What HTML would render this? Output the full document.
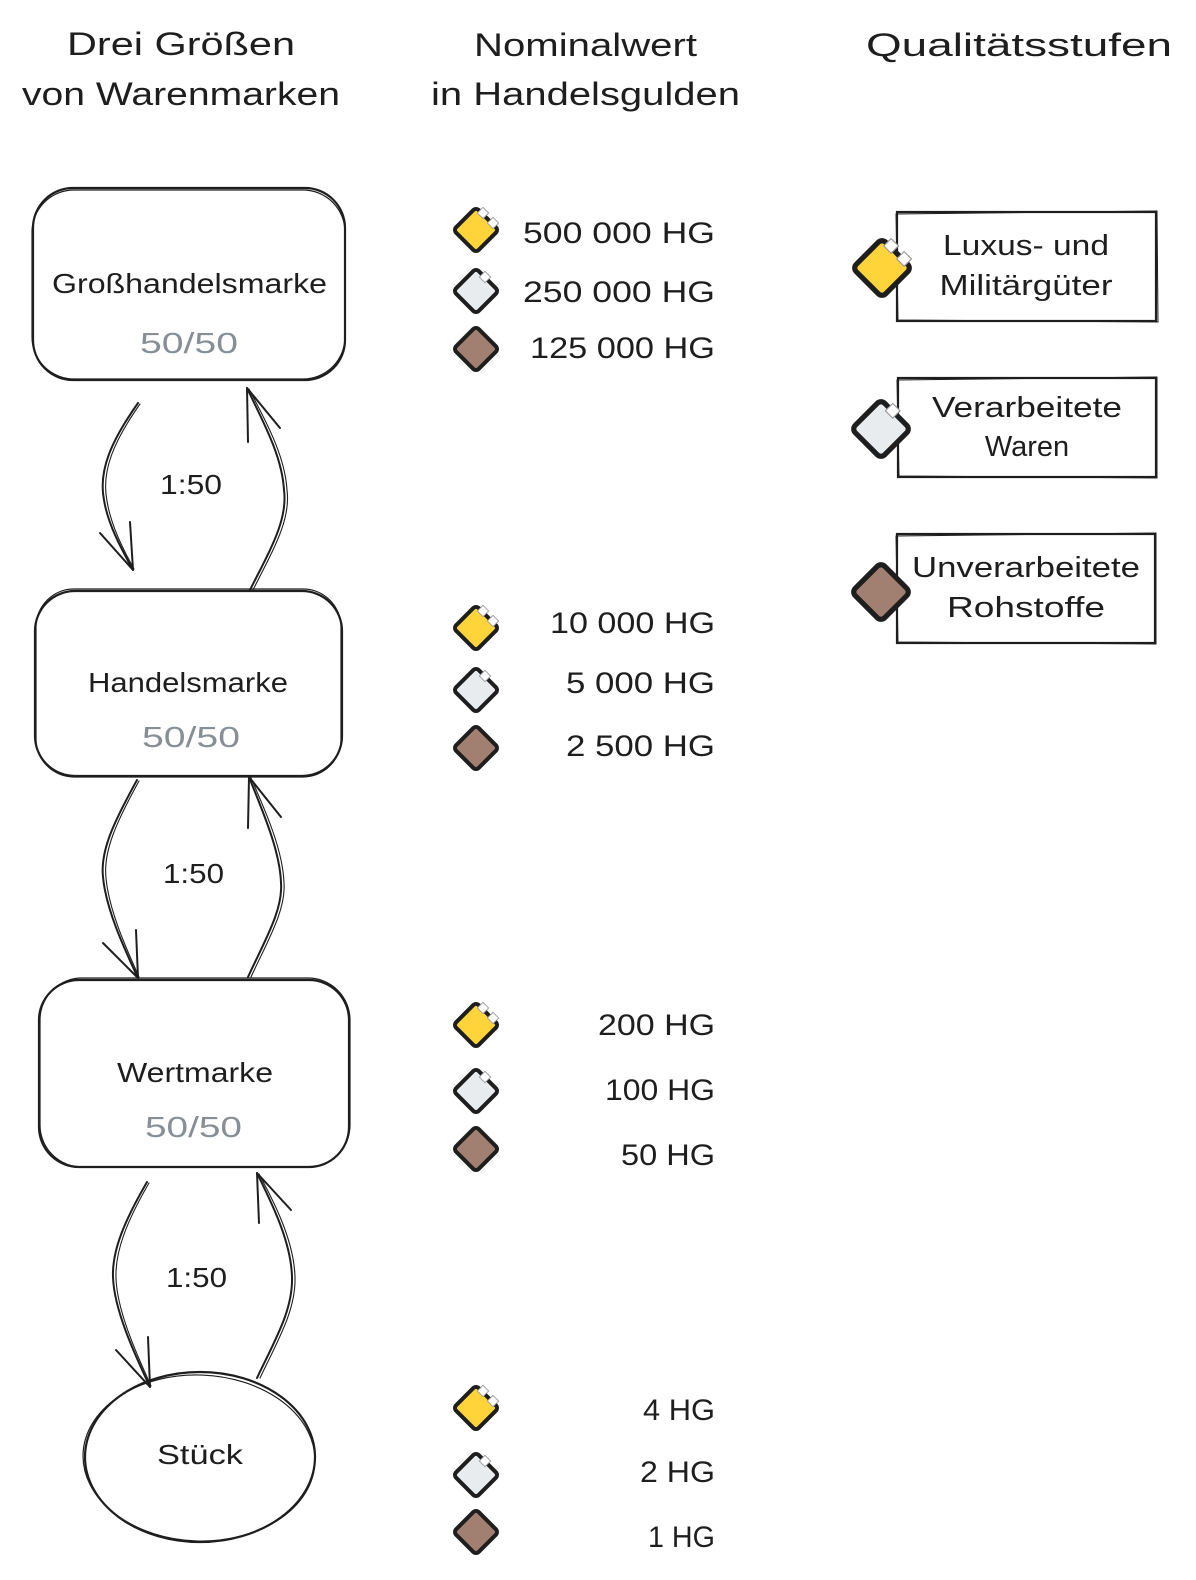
<!DOCTYPE html>
<html><head><meta charset="utf-8"><style>
html,body{margin:0;padding:0;background:#fff;}
svg{display:block;}
text{font-family:"Liberation Sans",sans-serif;fill:#1e1e1e;}
.g{fill:#868e96;}
</style></head><body>
<svg width="1196" height="1580" viewBox="0 0 1196 1580" xmlns="http://www.w3.org/2000/svg">
<rect width="1196" height="1580" fill="#fff"/>
<!-- Titles -->
<g font-size="32">
<text x="67" y="55" textLength="228" lengthAdjust="spacingAndGlyphs">Drei Größen</text>
<text x="22" y="105" textLength="318" lengthAdjust="spacingAndGlyphs">von Warenmarken</text>
<text x="474" y="56" textLength="223" lengthAdjust="spacingAndGlyphs">Nominalwert</text>
<text x="431" y="105" textLength="309" lengthAdjust="spacingAndGlyphs">in Handelsgulden</text>
<text x="866" y="56" textLength="306" lengthAdjust="spacingAndGlyphs">Qualitätsstufen</text>
</g>

<!-- Left nodes -->
<g fill="none" stroke="#1e1e1e">
<rect x="33" y="188" width="312" height="192" rx="40" stroke-width="2.2"/>
<rect x="32" y="190" width="313" height="189" rx="42" stroke-width="1.2"/>
<rect x="35" y="591" width="307" height="185" rx="40" stroke-width="2.2"/>
<rect x="36" y="589" width="305" height="188" rx="38" stroke-width="1.2"/>
<rect x="39" y="980" width="310" height="187" rx="40" stroke-width="2.2"/>
<rect x="40" y="978" width="310" height="189" rx="42" stroke-width="1.2"/>
<ellipse cx="200" cy="1457" rx="115" ry="85" stroke-width="2.2"/>
<ellipse cx="199" cy="1458" rx="116" ry="83" stroke-width="1.2" transform="rotate(2 199 1458)"/>
</g>
<g font-size="28">
<text x="52" y="293" textLength="275" lengthAdjust="spacingAndGlyphs">Großhandelsmarke</text>
<text x="88" y="692" textLength="200" lengthAdjust="spacingAndGlyphs">Handelsmarke</text>
<text x="117" y="1082" textLength="156" lengthAdjust="spacingAndGlyphs">Wertmarke</text>
<text x="157" y="1464" textLength="86" lengthAdjust="spacingAndGlyphs">Stück</text>
</g>
<g font-size="29" class="g">
<text class="g" x="140" y="353" textLength="98" lengthAdjust="spacingAndGlyphs">50/50</text>
<text class="g" x="142" y="747" textLength="98" lengthAdjust="spacingAndGlyphs">50/50</text>
<text class="g" x="145" y="1137" textLength="97" lengthAdjust="spacingAndGlyphs">50/50</text>
</g>
<g font-size="28">
<text x="160" y="494" textLength="62" lengthAdjust="spacingAndGlyphs">1:50</text>
<text x="163" y="883" textLength="61" lengthAdjust="spacingAndGlyphs">1:50</text>
<text x="166" y="1287" textLength="61" lengthAdjust="spacingAndGlyphs">1:50</text>
</g>

<!-- Arrows -->
<g fill="none" stroke="#1e1e1e" stroke-linecap="round" stroke-linejoin="round">
<g stroke-width="2">
<path d="M138,403 C112,440 98,470 104,500 C108,525 122,550 133,570"/>
<path d="M100,533 L133,570 L130,522"/>
<path d="M250,590 C270,550 288,520 284,490 C282,455 262,420 247,388"/>
<path d="M248,442 L247,388 L280,428"/>
<path d="M137,780 C115,820 100,850 103,877 C106,910 125,950 138,978"/>
<path d="M103,943 L138,978 L136,930"/>
<path d="M248,977 C265,940 283,910 281,883 C280,850 262,810 249,777"/>
<path d="M248,828 L249,777 L281,817"/>
<path d="M147,1182 C125,1220 112,1250 113,1277 C114,1310 135,1355 150,1387"/>
<path d="M116,1350 L150,1387 L148,1337"/>
<path d="M257,1378 C275,1340 293,1310 292,1277 C291,1240 270,1200 257,1173"/>
<path d="M259,1223 L257,1173 L291,1210"/>
</g>
<g stroke-width="1.1">
<path d="M140,404 C114,441 101,471 107,501 C111,526 124,551 134,569"/>
<path d="M253,590 C273,550 291,520 287,490 C285,455 265,420 249,389"/>
<path d="M139,781 C117,821 103,851 106,878 C109,911 127,950 139,977"/>
<path d="M251,977 C268,940 286,910 284,883 C283,850 265,810 251,778"/>
<path d="M149,1183 C127,1221 115,1251 116,1278 C117,1311 137,1355 151,1386"/>
<path d="M260,1378 C278,1340 296,1310 295,1277 C294,1240 273,1200 259,1174"/>
</g>
</g>

<defs>
<g id="dy">
<rect x="-16" y="-16" width="32" height="32" rx="4" fill="#ffd43b" stroke="#1e1e1e" stroke-width="4" transform="rotate(45)"/>
<rect x="-4" y="-4" width="8" height="8" fill="#fff" stroke="#999" stroke-width="0.9" transform="translate(7,-17) rotate(45)"/>
<rect x="-4" y="-4" width="8" height="8" fill="#fff" stroke="#999" stroke-width="0.9" transform="translate(17,-7) rotate(45)"/>
</g>
<g id="dg">
<rect x="-16" y="-16" width="32" height="32" rx="4" fill="#e9ecef" stroke="#1e1e1e" stroke-width="4" transform="rotate(45)"/>
<rect x="-4" y="-4" width="8" height="8" fill="#fff" stroke="#999" stroke-width="0.9" transform="translate(9,-14) rotate(45)"/>
</g>
<g id="db">
<rect x="-16" y="-16" width="32" height="32" rx="4" fill="#a18072" stroke="#1e1e1e" stroke-width="4" transform="rotate(45)"/>
</g>
</defs>

<use href="#dy" x="476" y="230"/>
<use href="#dg" x="476" y="291"/>
<use href="#db" x="476" y="349"/>
<use href="#dy" x="476" y="628"/>
<use href="#dg" x="476" y="690"/>
<use href="#db" x="476" y="748"/>
<use href="#dy" x="476" y="1025"/>
<use href="#dg" x="476" y="1091"/>
<use href="#db" x="476" y="1149"/>
<use href="#dy" x="476" y="1408"/>
<use href="#dg" x="476" y="1475"/>
<use href="#db" x="476" y="1532"/>

<g font-size="30" text-anchor="end">
<text x="715" y="243" textLength="192" lengthAdjust="spacingAndGlyphs">500 000 HG</text>
<text x="715" y="302" textLength="192" lengthAdjust="spacingAndGlyphs">250 000 HG</text>
<text x="715" y="358" textLength="185" lengthAdjust="spacingAndGlyphs">125 000 HG</text>
<text x="715" y="633" textLength="165" lengthAdjust="spacingAndGlyphs">10 000 HG</text>
<text x="715" y="693" textLength="149" lengthAdjust="spacingAndGlyphs">5 000 HG</text>
<text x="715" y="756" textLength="149" lengthAdjust="spacingAndGlyphs">2 500 HG</text>
<text x="715" y="1035" textLength="117" lengthAdjust="spacingAndGlyphs">200 HG</text>
<text x="715" y="1100" textLength="110" lengthAdjust="spacingAndGlyphs">100 HG</text>
<text x="715" y="1165" textLength="94" lengthAdjust="spacingAndGlyphs">50 HG</text>
<text x="715" y="1420" textLength="72" lengthAdjust="spacingAndGlyphs">4 HG</text>
<text x="715" y="1482" textLength="75" lengthAdjust="spacingAndGlyphs">2 HG</text>
<text x="715" y="1547" textLength="67" lengthAdjust="spacingAndGlyphs">1 HG</text>
</g>

<!-- Right column boxes -->
<g fill="#fff" stroke="#1e1e1e">
<rect x="897" y="212" width="259" height="109" stroke-width="2.2"/>
<rect x="898" y="378" width="258" height="99" stroke-width="2.2"/>
<rect x="897" y="534" width="258" height="109" stroke-width="2.2"/>
</g>
<g fill="none" stroke="#1e1e1e" stroke-width="1">
<path d="M896,214 L1157,211 L1158,322 L898,320 Z"/>
<path d="M897,380 L1157,377 L1157,478 L899,476 Z"/>
<path d="M896,536 L1156,533 L1156,644 L898,642 Z"/>
</g>

<g transform="translate(882,268) scale(1.3)"><use href="#dy"/></g>
<g transform="translate(881,429) scale(1.3)"><use href="#dg"/></g>
<g transform="translate(881,592) scale(1.3)"><use href="#db"/></g>

<g font-size="29" text-anchor="middle">
<text x="1026" y="255" textLength="166" lengthAdjust="spacingAndGlyphs">Luxus- und</text>
<text x="1026" y="295" textLength="173" lengthAdjust="spacingAndGlyphs">Militärgüter</text>
<text x="1027" y="417" textLength="190" lengthAdjust="spacingAndGlyphs">Verarbeitete</text>
<text x="1027" y="456">Waren</text>
<text x="1026" y="577" textLength="228" lengthAdjust="spacingAndGlyphs">Unverarbeitete</text>
<text x="1026" y="617" textLength="158" lengthAdjust="spacingAndGlyphs">Rohstoffe</text>
</g>
</svg>
</body></html>
